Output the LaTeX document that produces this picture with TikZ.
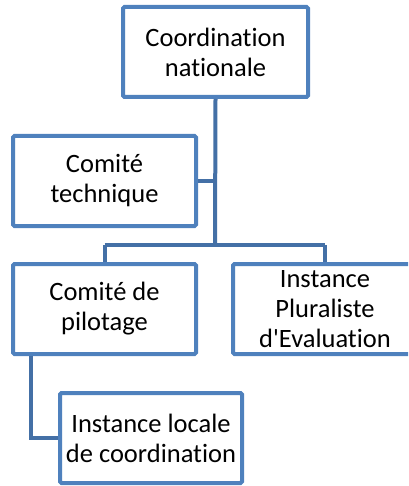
\documentclass[tikz,border=0pt]{standalone}
\usepackage{fontspec}
\setmainfont[Ligatures={NoCommon}]{Carlito}
\definecolor{boxblue}{RGB}{79,129,189}
\definecolor{lineblue}{RGB}{68,112,166}
\begin{document}
\begin{tikzpicture}[x=1pt,y=-1pt,
  orgbox/.style={draw=boxblue, line width=4pt, fill=white, rounded corners=1.5pt,
    minimum width=183pt, minimum height=90pt, inner sep=0pt, align=center,
    font=\fontsize{26.5}{30}\selectfont},
  conn/.style={draw=lineblue, line width=4pt}]
\useasboundingbox (0,0) rectangle (408,486);
\clip (0,0) rectangle (408,486);
\coordinate (bus) at (215,245);
\coordinate (tj) at (215,181);
\coordinate (busl) at (104.5,245);
\coordinate (busr) at (325,245);
\node[orgbox, minimum width=185pt] (top) at (215.5,52) {Coordination\\nationale};
\node[orgbox] (tech) at (104.5,181) {Comité\\technique};
\node[orgbox] (pilot) at (104.5,309) {Comité de\\pilotage};
\node[orgbox, minimum width=184pt] (plur) at (325,309) {Instance\\Pluraliste\\d\textquotesingle Evaluation};
\node[orgbox, minimum width=182pt] (local) at (151,438) {Instance locale\\de coordination};
\draw[conn] (top.south) -- (bus);
\draw[conn] (tech.east) -- (tj);
\draw[conn] (busl) -- (busr);
\draw[conn] (busl) -- (pilot.north);
\draw[conn] (busr) -- (plur.north);
\draw[conn] ([xshift=20pt]pilot.south west) |- (local.west);
\end{tikzpicture}
\end{document}
